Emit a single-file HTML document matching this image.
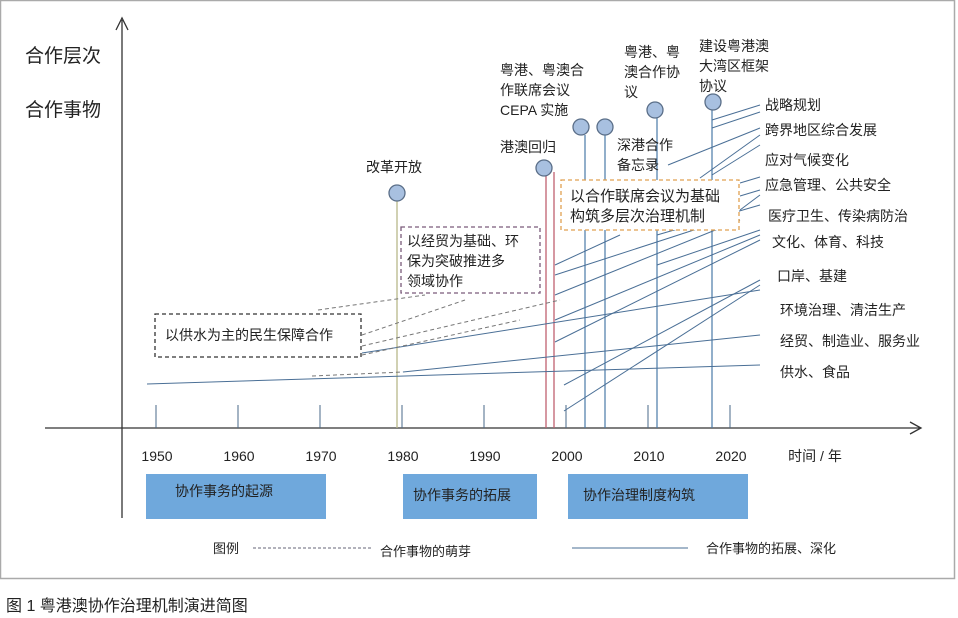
<!DOCTYPE html>
<html><head><meta charset="utf-8"><style>
html,body{margin:0;padding:0;background:#fff;}
svg{display:block;font-family:"Liberation Sans","Noto Sans CJK SC",sans-serif;}
</style></head><body>
<svg width="958" height="618" viewBox="0 0 958 618" xmlns="http://www.w3.org/2000/svg">
<rect x="0.5" y="0.5" width="954" height="578" fill="#fff" stroke="#aaa" stroke-width="1.5"/>
<!-- axes -->
<line x1="122" y1="20" x2="122" y2="518" stroke="#333" stroke-width="1.3"/>
<path d="M116,30 L122,18 L128,30" fill="none" stroke="#333" stroke-width="1.3"/>
<line x1="45" y1="428" x2="920" y2="428" stroke="#333" stroke-width="1.3"/>
<path d="M910,422 L921,428 L910,434" fill="none" stroke="#333" stroke-width="1.3"/>
<text x="25" y="62" font-size="19" fill="#222">合作层次</text>
<text x="25" y="116" font-size="19" fill="#222">合作事物</text>
<!-- ticks -->
<g stroke="#4a6a8a" stroke-width="1">
<line x1="156" y1="405" x2="156" y2="428"/><line x1="238" y1="405" x2="238" y2="428"/>
<line x1="320" y1="405" x2="320" y2="428"/><line x1="402" y1="405" x2="402" y2="428"/>
<line x1="484" y1="405" x2="484" y2="428"/><line x1="566" y1="405" x2="566" y2="428"/>
<line x1="648" y1="405" x2="648" y2="428"/><line x1="730" y1="405" x2="730" y2="428"/>
</g>
<g font-size="14" fill="#222" text-anchor="middle">
<text x="157" y="461">1950</text><text x="239" y="461">1960</text><text x="321" y="461">1970</text>
<text x="403" y="461">1980</text><text x="485" y="461">1990</text><text x="567" y="461">2000</text>
<text x="649" y="461">2010</text><text x="731" y="461">2020</text>
<text x="815" y="461">时间 / 年</text>
</g>
<!-- event lines -->
<line x1="397" y1="200" x2="397" y2="428" stroke="#b8b88a" stroke-width="1.3"/>
<line x1="546" y1="172" x2="546" y2="428" stroke="#c06070" stroke-width="1.3"/>
<line x1="554" y1="172" x2="554" y2="428" stroke="#c06070" stroke-width="1.3"/>
<g stroke="#4a7aa8" stroke-width="1.2">
<line x1="585" y1="135" x2="585" y2="428"/><line x1="605" y1="135" x2="605" y2="428"/>
<line x1="657" y1="117" x2="657" y2="428"/><line x1="712" y1="109" x2="712" y2="428"/>
</g>
<!-- fan lines -->
<g stroke="#4a6f96" stroke-width="1" fill="none">
<line x1="147" y1="384" x2="760" y2="365"/>
<line x1="403" y1="372" x2="760" y2="335"/>
<line x1="362" y1="353" x2="760" y2="290"/>
<line x1="564" y1="411" x2="760" y2="285"/>
<line x1="564" y1="385" x2="760" y2="280"/>
<line x1="555" y1="342" x2="760" y2="240"/>
<line x1="555" y1="320" x2="760" y2="235"/>
<line x1="555" y1="295" x2="740" y2="220"/>
<line x1="555" y1="275" x2="700" y2="228"/>
<line x1="555" y1="265" x2="620" y2="235"/>
<line x1="657" y1="265" x2="760" y2="230"/>
<line x1="657" y1="235" x2="760" y2="205"/>
<line x1="740" y1="210" x2="760" y2="195"/>
<line x1="740" y1="196" x2="760" y2="190"/>
<line x1="740" y1="183" x2="760" y2="177"/>
<line x1="712" y1="175" x2="760" y2="145"/>
<line x1="668" y1="165" x2="760" y2="128"/>
<line x1="700" y1="178" x2="760" y2="135"/>
<line x1="712" y1="128" x2="760" y2="112"/>
<line x1="712" y1="120" x2="760" y2="105"/>
</g>
<g stroke="#777" stroke-width="1" stroke-dasharray="4,3" fill="none">
<line x1="312" y1="376" x2="403" y2="372"/>
<line x1="362" y1="355" x2="520" y2="320"/>
<line x1="362" y1="346" x2="560" y2="300"/>
<line x1="362" y1="335" x2="465" y2="300"/>
<line x1="318" y1="310" x2="425" y2="295"/>
</g>
<!-- circles -->
<g fill="#a8c0e0" stroke="#5a6e88" stroke-width="1.3">
<circle cx="397" cy="193" r="8"/><circle cx="544" cy="168" r="8"/>
<circle cx="581" cy="127" r="8"/><circle cx="605" cy="127" r="8"/>
<circle cx="655" cy="110" r="8"/><circle cx="713" cy="102" r="8"/>
</g>
<g font-size="14" fill="#222">
<text x="366" y="172">改革开放</text>
<text x="500" y="152">港澳回归</text>
<text x="500" y="75">粤港、粤澳合</text>
<text x="500" y="95">作联席会议</text>
<text x="500" y="115">CEPA 实施</text>
<text x="624" y="57">粤港、粤</text>
<text x="624" y="77">澳合作协</text>
<text x="624" y="97">议</text>
<text x="699" y="51">建设粤港澳</text>
<text x="699" y="71">大湾区框架</text>
<text x="699" y="91">协议</text>
<text x="617" y="150">深港合作</text>
<text x="617" y="170">备忘录</text>
<text x="765" y="110">战略规划</text>
<text x="765" y="135">跨界地区综合发展</text>
<text x="765" y="165">应对气候变化</text>
<text x="765" y="190">应急管理、公共安全</text>
<text x="768" y="221">医疗卫生、传染病防治</text>
<text x="772" y="247">文化、体育、科技</text>
<text x="777" y="281">口岸、基建</text>
<text x="780" y="315">环境治理、清洁生产</text>
<text x="780" y="346">经贸、制造业、服务业</text>
<text x="780" y="377">供水、食品</text>
</g>
<!-- dashed boxes -->
<rect x="155" y="314" width="206" height="43" fill="#fff" stroke="#333" stroke-width="1.3" stroke-dasharray="4,3"/>
<text x="165" y="340" font-size="14" fill="#222">以供水为主的民生保障合作</text>
<rect x="401" y="227" width="139" height="66" fill="#fff" stroke="#7a5a7a" stroke-width="1.3" stroke-dasharray="4,3"/>
<g font-size="14" fill="#222"><text x="407" y="246">以经贸为基础、环</text><text x="407" y="266">保为突破推进多</text><text x="407" y="286">领域协作</text></g>
<rect x="561" y="180" width="178" height="50" fill="#fff" stroke="#e0a050" stroke-width="1.3" stroke-dasharray="4,3"/>
<g font-size="15" fill="#222"><text x="570" y="201">以合作联席会议为基础</text><text x="570" y="221">构筑多层次治理机制</text></g>
<!-- phase bars -->
<g fill="#6fa8dc">
<rect x="146" y="474" width="180" height="45"/><rect x="403" y="474" width="134" height="45"/><rect x="568" y="474" width="180" height="45"/>
</g>
<g font-size="14" fill="#222">
<text x="175" y="496">协作事务的起源</text><text x="413" y="500">协作事务的拓展</text><text x="583" y="500">协作治理制度构筑</text>
</g>
<!-- legend -->
<text x="213" y="553" font-size="13" fill="#222">图例</text>
<line x1="253" y1="548" x2="372" y2="548" stroke="#667" stroke-dasharray="3,2"/>
<text x="380" y="556" font-size="13" fill="#222">合作事物的萌芽</text>
<line x1="572" y1="548" x2="688" y2="548" stroke="#4a6f96"/>
<text x="706" y="553" font-size="13" fill="#222">合作事物的拓展、深化</text>
<text x="6" y="611" font-size="16" fill="#222">图 1  粤港澳协作治理机制演进简图</text>
</svg>
</body></html>
